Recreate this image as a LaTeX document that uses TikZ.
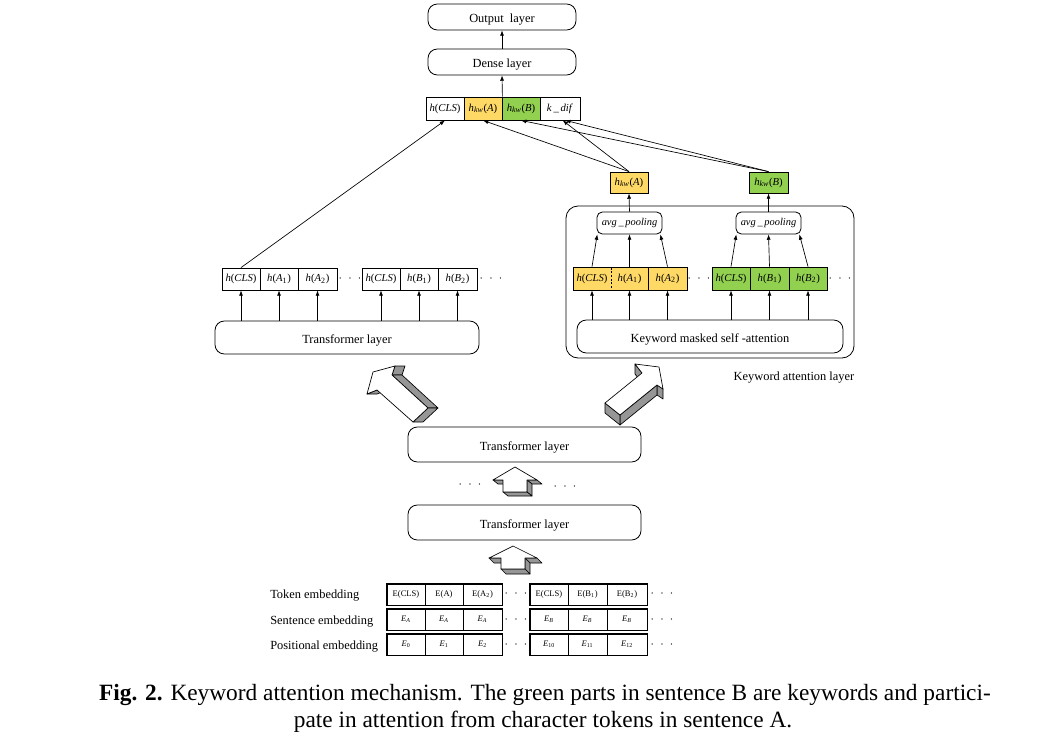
\documentclass[tikz,border=0pt]{standalone}
\usepackage{fontspec}
\setmainfont{Liberation Serif}
\usetikzlibrary{arrows.meta,calc}
\definecolor{kwyellow}{RGB}{255,217,102}
\definecolor{kwgreen}{RGB}{146,208,80}
\definecolor{sidegray}{RGB}{150,150,150}
\newcommand\myh[1]{\textit{h}(\textit{#1})}
\newcommand\myhs[2]{\textit{h}(\textit{#1}\textsubscript{#2})}
\newcommand\hkw[1]{\textit{h}\textsubscript{\textit{kw}}(\textit{#1})}
\newcommand\ecap[1]{\textit{E}\textsubscript{\textit{#1}}}
% box from corner (x1,y1) to (x2,y2) in pixel units
\newcommand\bx[7][]{%
  \pgfmathsetmacro\bxw{(#5-#3)*0.75}%
  \pgfmathsetmacro\bxh{(#6-#4)*0.75}%
  \node[#1, minimum width=\bxw pt, minimum height=\bxh pt] (#2) at ({(#3+#5)/2},{(#4+#6)/2}) {#7};}
\begin{document}
\begin{tikzpicture}[x=0.75pt,y=-0.75pt,
  box/.style={draw, inner sep=0pt, line width=0.6pt},
  layer/.style={box, rounded corners=7pt, font=\fontsize{9.3}{11}\selectfont, text height=0.9em, text depth=0pt},
  pool/.style={box, rounded corners=4pt, font=\fontsize{7.8}{9}\selectfont},
  cell/.style={box, font=\fontsize{8}{9}\selectfont},
  ecell/.style={box, font=\fontsize{6.4}{7}\selectfont},
  arr/.style={-{Latex[length=4pt,width=3pt]}, line width=0.5pt},
  lbl/.style={font=\fontsize{9.3}{11}\selectfont},
  dotsty/.style={font=\fontsize{9}{10}\selectfont},
  side/.style={fill=sidegray, draw=black, line width=0.5pt, line join=round},
  front/.style={fill=white, draw=black, line width=0.5pt, line join=round},
  frame/.style={draw, line width=1pt},
  capt/.style={font=\fontsize{17.5}{20}\selectfont, inner sep=0pt},
]
\useasboundingbox (0,0) rectangle (1047,749);
\def\dd{$\cdot\;\cdot\;\cdot$}

% ---------- top ----------
\bx[layer]{out}{428}{4}{576}{30}{Output\ \ layer}
\bx[layer]{dense}{428}{49}{576}{75}{Dense layer}
\bx[cell]{c1}{426}{97}{464}{120}{\myh{CLS}}
\bx[cell, fill=kwyellow]{c2}{464}{97}{502}{120}{\hkw{A}}
\bx[cell, fill=kwgreen]{c3}{502}{97}{540}{120}{\hkw{B}}
\bx[cell]{c4}{540}{97}{580}{120}{\textit{k}\,\_\,\textit{dif}}
\draw[arr] (dense.north) -- (out.south);
\draw[arr] (c2.north east) -- (dense.south);

% ---------- left branch ----------
\bx[cell]{l1}{222}{268}{260}{290}{\myh{CLS}}
\bx[cell]{l2}{260}{268}{298}{290}{\myhs{A}{1}}
\bx[cell]{l3}{298}{268}{337}{290}{\myhs{A}{2}}
\node[dotsty] (ld1) at (350,279) {\dd};
\bx[cell]{l4}{362}{268}{400}{290}{\myh{CLS}}
\bx[cell]{l5}{400}{268}{438}{290}{\myhs{B}{1}}
\bx[cell]{l6}{438}{268}{477}{290}{\myhs{B}{2}}
\node[dotsty] (ld2) at (491,279) {\dd};
\bx[layer]{tl}{215}{321}{479}{354}{Transformer layer}
\foreach \c in {l1,l2,l3,l4,l5,l6}
  \draw[arr] (\c |- tl.north) -- (\c.south);
\draw[arr] (l1.north) -- (c1.south);

% ---------- right branch ----------
\bx[box, rounded corners=9pt]{kal}{566}{206}{854}{358}{}
\node[lbl] (kallbl) at (794,378) {Keyword attention layer};
\bx[pool]{avgA}{597}{212}{662}{234}{\textit{avg}\,\_\,\textit{pooling}}
\bx[pool]{avgB}{736}{212}{801}{234}{\textit{avg}\,\_\,\textit{pooling}}
\bx[cell, fill=kwyellow]{y1}{573}{267}{611}{290}{\myh{CLS}}
\bx[cell, fill=kwyellow]{y2}{611}{267}{648}{290}{\myhs{A}{1}}
\bx[cell, fill=kwyellow]{y3}{648}{267}{687}{290}{\myhs{A}{2}}
\draw[kwyellow, line width=1.2pt, shorten >=0.6pt, shorten <=0.6pt] (y1.north east) -- (y1.south east);
\draw[line width=0.6pt, dash pattern=on 1.6pt off 1.2pt, shorten >=0.6pt, shorten <=0.6pt] (y1.north east) -- (y1.south east);
\node[dotsty] (rd1) at (699,279) {\dd};
\bx[cell, fill=kwgreen]{g1}{712}{267}{750}{290}{\myh{CLS}}
\bx[cell, fill=kwgreen]{g2}{750}{267}{789}{290}{\myhs{B}{1}}
\bx[cell, fill=kwgreen]{g3}{789}{267}{827}{290}{\myhs{B}{2}}
\node[dotsty] (rd2) at (840,279) {\dd};
\bx[layer]{kmsa}{577}{320}{843}{353}{Keyword masked self -attention}
\bx[cell, fill=kwyellow]{hkA}{610}{172}{648}{193}{\hkw{A}}
\bx[cell, fill=kwgreen]{hkB}{749}{172}{788}{193}{\hkw{B}}
\foreach \c in {y1,y2,y3,g1,g2,g3}
  \draw[arr] (\c |- kmsa.north) -- (\c.south);
\draw[arr] (y1.north) -- ([xshift=0.5pt]avgA.south west);
\draw[arr] (y2.north) -- (avgA.south);
\draw[arr] (y3.north) -- ([xshift=-1.5pt]avgA.south east);
\draw[arr] (g1.north) -- ([xshift=0.5pt]avgB.south west);
\draw[arr] (g2.north) -- (avgB.south);
\draw[arr] (g3.north) -- ([xshift=-1.5pt]avgB.south east);
\draw[arr] (avgA.north) -- (hkA.south);
\draw[arr] (avgB.north) -- (hkB.south);
\draw[arr] (hkA.north) -- (c2.south);
\draw[arr] (hkA.north) -- ([xshift=2pt]c4.south);
\draw[arr] (hkB.north) -- (c3.south);
\draw[arr] (hkB.north) -- ([xshift=4pt]c4.south);

% ---------- 3D arrows ----------
% left big arrow
\filldraw[side] (395,366) -- (392,375) -- (402,375) -- (405,366) -- cycle;
\filldraw[side] (392,375) -- (428,408) -- (438,408) -- (402,375) -- cycle;
\filldraw[side] (428,408) -- (413,422) -- (423,422) -- (438,408) -- cycle;
\filldraw[side] (377,390) -- (367,394) -- (377,394) -- (387,390) -- cycle;
\filldraw[front] (373,372) -- (395,366) -- (392,375) -- (428,408) -- (413,422) -- (377,390) -- (367,394) -- cycle;
% right big arrow
\filldraw[side] (663,389) -- (657,385) -- (657,395) -- (663,399) -- cycle;
\filldraw[side] (657,385) -- (620,415) -- (620,425) -- (657,395) -- cycle;
\filldraw[side] (620,415) -- (605,403) -- (605,413) -- (620,425) -- cycle;
\filldraw[side] (642,373) -- (635,364) -- (635,374) -- (642,383) -- cycle;
\filldraw[front] (635,364) -- (659,367) -- (663,389) -- (657,385) -- (620,415) -- (605,403) -- (642,373) -- cycle;
% upper small arrow
\filldraw[side] (537,480) -- (527,480) -- (532,484) -- (542,484) -- cycle;
\filldraw[side] (527,480) -- (527,492) -- (532,496) -- (532,484) -- cycle;
\filldraw[side] (527,492) -- (503,492) -- (508,496) -- (532,496) -- cycle;
\filldraw[side] (503,480) -- (493,480) -- (498,484) -- (508,484) -- cycle;
\filldraw[front] (515,467) -- (537,480) -- (527,480) -- (527,492) -- (503,492) -- (503,480) -- (493,480) -- cycle;
% lower small arrow
\filldraw[side] (537,558) -- (525,558) -- (530,563) -- (542,563) -- cycle;
\filldraw[side] (525,558) -- (525,569) -- (530,574) -- (530,563) -- cycle;
\filldraw[side] (525,569) -- (501,569) -- (506,574) -- (530,574) -- cycle;
\filldraw[side] (501,558) -- (489,558) -- (494,563) -- (506,563) -- cycle;
\filldraw[front] (513,546) -- (537,558) -- (525,558) -- (525,569) -- (501,569) -- (501,558) -- (489,558) -- cycle;

% ---------- middle transformer layers ----------
\bx[layer]{tm1}{408}{427}{641}{462}{Transformer layer}
\node[dotsty] (md1) at (470,485) {\dd};
\node[dotsty] (md2) at (565,487) {\dd};
\bx[layer]{tm2}{408}{505}{641}{540}{Transformer layer}

% ---------- embeddings ----------
\node[lbl, anchor=west, inner sep=0pt] (tokl) at (270,596) {Token embedding};
\node[lbl, anchor=west, inner sep=0pt] (senl) at (270,622) {Sentence embedding};
\node[lbl, anchor=west, inner sep=0pt] (posl) at (270,647) {Positional embedding};

\bx[ecell]{t1}{387}{584}{425}{605}{E(CLS)}
\bx[ecell]{t2}{425}{584}{463}{605}{E(A)}
\bx[ecell]{t3}{463}{584}{502}{605}{E(A\textsubscript{2})}
\node[dotsty] (td1) at (516,594) {\dd};
\bx[ecell]{t4}{530}{584}{568}{605}{E(CLS)}
\bx[ecell]{t5}{568}{584}{607}{605}{E(B\textsubscript{1})}
\bx[ecell]{t6}{607}{584}{647}{605}{E(B\textsubscript{2})}
\node[dotsty] (td2) at (662,594) {\dd};

\bx[ecell]{s1}{387}{609}{425}{630}{\ecap{A}}
\bx[ecell]{s2}{425}{609}{463}{630}{\ecap{A}}
\bx[ecell]{s3}{463}{609}{502}{630}{\ecap{A}}
\node[dotsty] (sd1) at (516,620) {\dd};
\bx[ecell]{s4}{530}{609}{568}{630}{\ecap{B}}
\bx[ecell]{s5}{568}{609}{607}{630}{\ecap{B}}
\bx[ecell]{s6}{607}{609}{647}{630}{\ecap{B}}
\node[dotsty] (sd2) at (662,620) {\dd};

\bx[ecell]{p1}{387}{634}{425}{655}{\textit{E}\textsubscript{0}}
\bx[ecell]{p2}{425}{634}{463}{655}{\textit{E}\textsubscript{1}}
\bx[ecell]{p3}{463}{634}{502}{655}{\textit{E}\textsubscript{2}}
\node[dotsty] (pd1) at (516,645) {\dd};
\bx[ecell]{p4}{530}{634}{568}{655}{\textit{E}\textsubscript{10}}
\bx[ecell]{p5}{568}{634}{607}{655}{\textit{E}\textsubscript{11}}
\bx[ecell]{p6}{607}{634}{647}{655}{\textit{E}\textsubscript{12}}
\node[dotsty] (pd2) at (662,645) {\dd};

\foreach \r in {t,s,p}{
  \draw[frame] (\r1.north west) rectangle (\r3.south east);
  \draw[frame] (\r4.north west) rectangle (\r6.south east);
}

% ---------- caption ----------
\node[capt] (cap1) at (545,695) {\textbf{Fig. 2.} Keyword attention mechanism. The green parts in sentence B are keywords and partici-};
\node[capt] (cap2) at (543,722) {pate in attention from character tokens in sentence A.};
\end{tikzpicture}
\end{document}
